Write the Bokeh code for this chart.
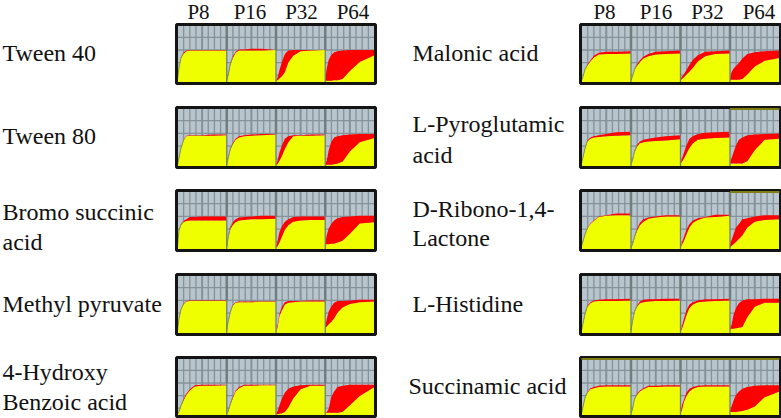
from bokeh.plotting import figure
from bokeh.models import Range1d
from bokeh.embed import file_html
from bokeh.resources import INLINE
from bokeh.core.properties import value

PASSAGES = ["P8", "P16", "P32", "P64"]
TIME = [0, 3, 7, 12, 18, 25, 35, 50, 70, 100]

tween40_low = [[5,25,42,50,55,56,56,56,56,56],[3,12,30,42,52,56,56,56,56,57],[3,4,7,11,18,35,47,55,56,57],[3,3,3,3,4,4,6,20,36,48]]
tween40_top = [[5,26,43,52,56,57,57,57,57,57],[3,14,32,45,54,58,58,59,59,57],[3,8,22,36,50,56,57,57,57,57],[5,25,40,48,53,55,56,57,57,57]]
tween80_low = [[3,14,30,44,52,53,53,53,53,54],[3,14,28,38,46,50,52,53,54,55],[3,4,10,18,30,42,52,53,53,54],[3,3,3,3,4,5,8,26,42,49]]
tween80_top = [[3,15,31,45,53,54,54,54,55,55],[3,15,30,40,48,52,54,55,56,56],[3,10,24,36,48,52,54,54,55,55],[5,10,28,42,50,52,54,55,56,56]]
bromo_low = [[5,32,42,47,49,50,50,50,50,50],[4,20,34,42,47,50,51,52,52,53],[3,5,12,22,34,42,48,50,51,51],[9,9,9,10,10,12,15,27,45,47]]
bromo_top = [[5,33,43,49,52,56,56,57,57,57],[4,22,38,47,52,55,56,57,58,58],[3,14,30,40,48,52,56,57,57,57],[10,25,36,44,50,54,56,57,58,58]]
methyl_low = [[5,25,40,50,55,56,56,56,56,56],[5,20,35,48,53,54,54,54,55,55],[3,10,30,40,50,53,54,55,55,55],[10,12,16,20,26,36,45,51,54,55]]
methyl_top = [[5,26,41,51,56,57,57,57,57,57],[5,21,36,49,54,55,55,55,56,56],[3,14,34,46,54,56,56,56,57,57],[11,25,38,46,53,56,56,57,58,58]]
hydroxy_low = [[2,6,16,26,36,44,51,52,52,53],[3,7,18,30,42,48,52,52,53,53],[2,2,3,4,6,14,30,46,52,52],[5,5,5,5,5,5,6,18,34,50]]
hydroxy_top = [[2,7,17,28,38,46,53,54,54,54],[3,8,20,32,44,50,54,54,54,54],[2,8,18,30,40,47,51,53,54,54],[5,6,12,32,42,50,52,54,54,54]]

malonic_low = [[3,10,22,30,37,44,49,50,50,51],[4,10,22,29,36,42,46,49,50,51],[4,6,9,14,19,26,37,46,50,51],[5,5,5,5,5,6,14,28,38,43]]
malonic_top = [[3,10,23,31,39,47,52,54,54,55],[4,11,23,32,39,45,50,54,55,56],[5,10,15,22,31,40,48,54,55,56],[6,18,24,29,34,42,50,53,55,56]]
pyro_low = [[5,15,30,43,48,50,51,52,53,54],[4,10,24,34,40,42,43,44,45,47],[5,8,14,22,32,40,46,48,49,50],[5,5,5,5,5,5,9,28,46,48]]
pyro_top = [[5,16,31,45,50,52,54,56,59,60],[4,11,26,37,43,46,48,50,52,54],[5,14,24,36,48,52,56,58,59,60],[7,14,24,36,46,50,54,55,56,57]]
ribono_low = [[5,13,25,36,44,49,56,58,59,59],[3,8,20,32,42,48,53,55,57,57],[3,8,15,26,38,46,51,55,56,58],[3,6,9,13,18,24,38,48,51,52]]
ribono_top = [[5,14,26,37,45,50,57,59,62,62],[3,9,22,35,46,52,55,57,59,59],[4,12,22,34,44,50,54,56,60,60],[8,16,26,38,44,52,54,57,59,59]]
histidine_low = [[5,16,32,46,52,55,56,56,56,57],[5,20,36,46,52,54,55,56,56,57],[3,8,18,32,44,50,54,55,56,57],[7,8,8,9,10,11,28,46,53,53]]
histidine_top = [[5,17,34,48,54,57,58,59,59,60],[5,21,38,48,55,58,59,59,60,60],[3,13,26,40,50,54,57,59,59,60],[9,14,32,44,52,57,59,59,60,60]]
succin_low = [[3,14,30,40,46,48,50,51,51,51],[4,10,28,36,42,46,50,50,51,51],[3,10,24,34,42,47,50,51,51,51],[6,6,6,6,7,8,10,16,32,42]]
succin_top = [[3,15,31,41,48,50,52,53,53,53],[4,11,29,38,44,48,52,52,53,53],[4,18,28,40,47,50,52,53,53,53],[9,16,26,36,42,47,50,52,53,53]]

GRID_H = [13, 35, 57, 79]
GRID_V = [12.5, 25, 37.5, 50, 62.5, 75, 87.5]

LEFT_X = (175, 376)
RIGHT_X = (579, 781)
ROW_Y = [(23, 84), (106, 168), (189, 251), (273, 335), (356, 417)]

LEFT_ROWS = [(tween40_low, tween40_top), (tween80_low, tween80_top), (bromo_low, bromo_top),
             (methyl_low, methyl_top), (hydroxy_low, hydroxy_top)]
RIGHT_ROWS = [(malonic_low, malonic_top), (pyro_low, pyro_top), (ribono_low, ribono_top),
              (histidine_low, histidine_top), (succin_low, succin_top)]

LEFT_LABELS = [(2, ["Tween 40"], [52]), (2, ["Tween 80"], [135]), (2, ["Bromo succinic", "acid"], [211, 241]),
               (2, ["Methyl pyruvate"], [303]), (2, ["4-Hydroxy", "Benzoic acid"], [371, 401])]
RIGHT_LABELS = [(412, ["Malonic acid"], [52]), (412, ["L-Pyroglutamic", "acid"], [123, 154]),
                (412, ["D-Ribono-1,4-", "Lactone"], [208, 237]),
                (412, ["L-Histidine"], [303]), (408, ["Succinamic acid"], [385])]

# (side, row, first panel, panel count) of the olive top edges
OLIVE = [("R", 4, 0, 4), ("R", 1, 3, 1), ("R", 2, 3, 1)]

YELLOW = "#f0ff00"
RED = "#fe0000"
BG = "#b9c5cd"
GRID = "#84929a"
SEP = "#6f7f80"
BORDER = "#141414"
EDGE = "#7f9a3a"
FONT = value("Liberation Serif")

p = figure(width=781, height=418, x_range=Range1d(0, 781), y_range=Range1d(418, 0),
           output_backend="svg", toolbar_location=None, min_border=0)
p.axis.visible = False
p.grid.visible = False
p.outline_line_color = None
p.background_fill_color = "white"


def block(x0, x1, y0, y1, rows):
    pad = 2
    ix0, ix1, iy0, iy1 = x0 + pad, x1 - pad, y0 + pad, y1 - pad
    pw = (ix1 - ix0) / 4
    ph = iy1 - iy0
    p.quad(left=[ix0], right=[ix1], top=[iy0], bottom=[iy1], fill_color=BG, line_color=None)
    low, top = rows
    for k in range(4):
        px0 = ix0 + k * pw
        for gx in GRID_V:
            X = px0 + gx / 100 * pw
            lw = 2 if gx == 50 else 1.3
            p.line([X, X], [iy0, iy1], line_color=GRID, line_width=lw)
        for gy in GRID_H:
            Y = iy1 - gy / 100 * ph
            p.line([px0, px0 + pw], [Y, Y], line_color=GRID, line_width=1.3)
        xs = [px0 + t / 100 * pw for t in TIME]
        ylo = [iy1 - v / 100 * ph for v in low[k]]
        ytop = [iy1 - v / 100 * ph for v in top[k]]
        p.varea(x=xs, y1=[iy1] * len(xs), y2=ylo, fill_color=YELLOW)
        p.varea(x=xs, y1=ylo, y2=ytop, fill_color=RED)
        if k < 2:
            p.line(xs[:4], ytop[:4], line_color=EDGE, line_width=1)
        if k:
            p.line([px0, px0], [iy0, iy1], line_color=SEP, line_width=1.3)
            mid = iy1 - 57 / 100 * ph
            p.line([px0, px0], [iy0, mid], line_color=SEP, line_width=2.5)
    p.quad(left=[x0 + 1], right=[x1 - 1], top=[y0 + 1], bottom=[y1 - 1],
           fill_color=None, line_color=BORDER, line_width=3)


def labels(entries):
    for x, lines, ys in entries:
        for s, y in zip(lines, ys):
            p.text([x], [y], text=[s], text_font=FONT, text_font_size="24px",
                   text_color="#111111", text_align="left", text_baseline="middle")


for (x0, x1), data, entries, off in [(LEFT_X, LEFT_ROWS, LEFT_LABELS, 23), (RIGHT_X, RIGHT_ROWS, RIGHT_LABELS, 25)]:
    for (y0, y1), rows in zip(ROW_Y, data):
        block(x0, x1, y0, y1, rows)
    labels(entries)
    for k, name in enumerate(PASSAGES):
        p.text([x0 + off + k * 51.5], [11], text=[name], text_font=FONT, text_font_size="21px",
               text_color="#111111", text_align="center", text_baseline="middle")

for side, row, first, n in OLIVE:
    x0, x1 = RIGHT_X if side == "R" else LEFT_X
    y0, y1 = ROW_Y[row]
    pw = (x1 - x0 - 4) / 4
    a = x0 + 2 + first * pw
    p.line([a, a + n * pw], [y0 + 2.5, y0 + 2.5], line_color="#7d7d10", line_width=2)

open("out.html", "w").write(file_html(p, INLINE))
